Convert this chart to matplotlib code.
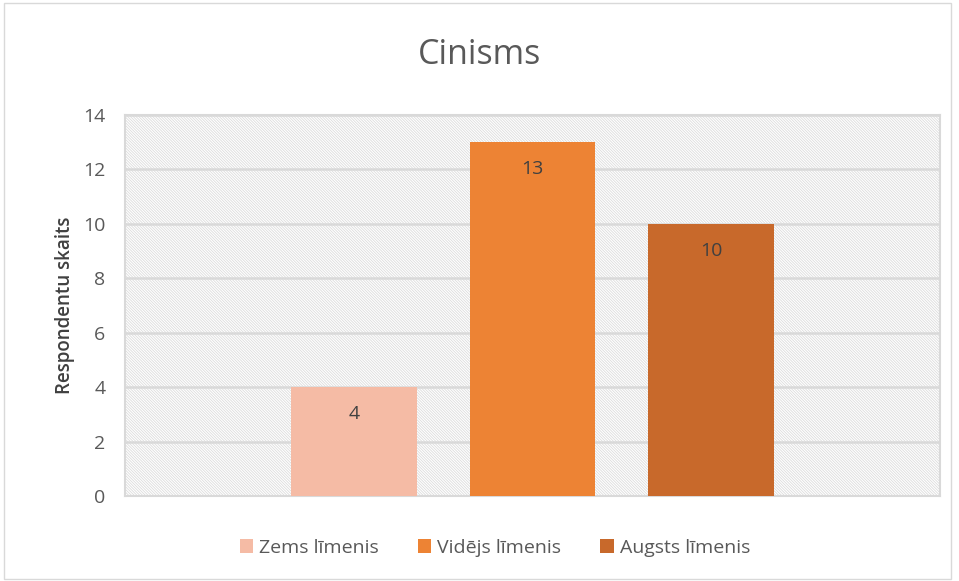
import matplotlib.pyplot as plt
from matplotlib.patches import Rectangle, Patch

categories = ['Zems līmenis', 'Vidējs līmenis', 'Augsts līmenis']
values = [4, 13, 10]
colors = ['#F5BBA5', '#ED8334', '#C8692B']
yticks = [0, 2, 4, 6, 8, 10, 12, 14]

plt.rcParams['font.family'] = ['Open Sans', 'DejaVu Sans']
plt.rcParams['hatch.color'] = '#DCDCDC'
plt.rcParams['hatch.linewidth'] = 0.6
text_col = '#595959'
grid_col = '#D9D9D9'

fig = plt.figure(figsize=(9.59, 5.81), dpi=100)
fig.patches.append(Rectangle((0.004, 0.004), 0.988, 0.99, transform=fig.transFigure,
                             fill=False, edgecolor=grid_col, linewidth=1))
ax = fig.add_axes([0.1303, 0.1463, 0.8497, 0.6557])

# hatched background of the plot area
ax.add_patch(Rectangle((0, 0), 1, 1, transform=ax.transAxes, facecolor='white',
                       hatch='\\' * 12, linewidth=0, zorder=0))

x = list(range(len(values)))
bars = ax.bar(x, values, width=0.703, color=colors, zorder=3)
for b, v in zip(bars, values):
    ax.text(b.get_x() + b.get_width() / 2, v - 1.0, str(v), ha='center', va='center',
            fontsize=14, color='#404040', zorder=4)

ax.set_xlim(-1.28, 3.28)
ax.set_ylim(0, 14)
ax.set_yticks(yticks)
ax.set_xticks([])
ax.tick_params(axis='y', length=0, labelsize=14, labelcolor=text_col, pad=14)
ax.yaxis.grid(True, color=grid_col, linewidth=1.8, zorder=1)
ax.set_axisbelow(True)
for s in ax.spines.values():
    s.set_color(grid_col)
    s.set_linewidth(1.5)

ax.set_ylabel('Respondentu skaits', fontsize=13.5, color='#404040', fontweight='semibold', labelpad=6)
fig.text(0.5, 0.905, 'Cinisms', ha='center', va='center', fontsize=24.5, color=text_col)

handles = [Patch(facecolor=c, edgecolor='none') for c in colors]
fig.legend(handles, categories, loc='center', bbox_to_anchor=(0.516, 0.057), ncol=3,
           frameon=False, fontsize=14, labelcolor=text_col, handlelength=0.7,
           handleheight=0.7, handletextpad=0.3, columnspacing=2.0)

fig.savefig('out.png', dpi=100)
